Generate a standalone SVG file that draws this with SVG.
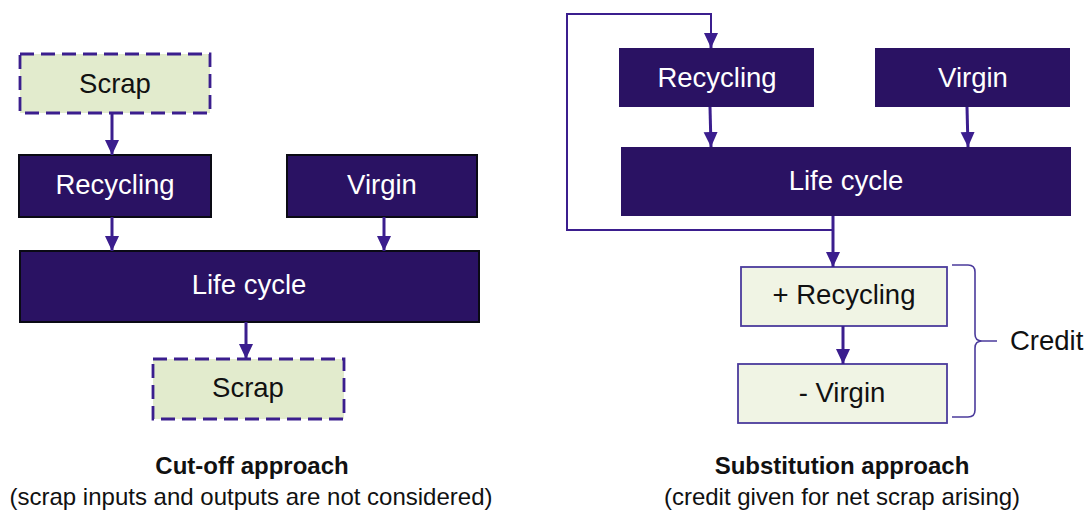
<svg xmlns="http://www.w3.org/2000/svg" width="1088" height="511" viewBox="0 0 1088 511">
  <style>
    .dark { fill: #2a1263; }
    .dark-b { fill: #2a1263; stroke: #0a0a14; stroke-width: 2; }
    .scrap { fill: #e2ebcd; stroke: #3b1e8e; stroke-width: 2.8; stroke-dasharray: 14 7; }
    .credit { fill: #f0f4e4; stroke: #4b3b9c; stroke-width: 1.8; }
    .lbl { font-family: "Liberation Sans", Arial, sans-serif; font-size: 27.5px; text-anchor: middle; }
    .lw { fill: #ffffff; }
    .lk { fill: #111111; }
    .cap { font-family: "Liberation Sans", Arial, sans-serif; font-size: 24px; text-anchor: middle; fill: #111111; }
    .capb { font-weight: bold; }
    .arrow { fill: none; stroke: #3b1e8e; stroke-width: 3; marker-end: url(#head); }
    .loop { fill: none; stroke: #3b1e8e; stroke-width: 2; }
    .brace { fill: none; stroke: #4b3b9c; stroke-width: 1.6; }
  </style>
  <defs>
    <marker id="head" markerUnits="userSpaceOnUse" markerWidth="16" markerHeight="16" viewBox="0 0 16 16" refX="15" refY="8" orient="auto">
      <path d="M0,1 L15,8 L0,15 Z" fill="#3b1e8e"/>
    </marker>
  </defs>

  <!-- Cut-off approach -->
  <g id="scrap-in">
    <rect class="scrap" x="20" y="54" width="190" height="59"/>
    <text class="lbl lk" x="115" y="93">Scrap</text>
  </g>
  <g id="recycling-left">
    <rect class="dark-b" x="19" y="155" width="192" height="62"/>
    <text class="lbl lw" x="115" y="194">Recycling</text>
  </g>
  <g id="virgin-left">
    <rect class="dark-b" x="287" y="155" width="190" height="62"/>
    <text class="lbl lw" x="382" y="194">Virgin</text>
  </g>
  <g id="lifecycle-left">
    <rect class="dark-b" x="20" y="251" width="459" height="71" stroke-width="3"/>
    <text class="lbl lw" x="249" y="294">Life cycle</text>
  </g>
  <g id="scrap-out">
    <rect class="scrap" x="153" y="359" width="191" height="60"/>
    <text class="lbl lk" x="248" y="397">Scrap</text>
  </g>

  <!-- Substitution approach -->
  <g id="recycling-right">
    <rect class="dark" x="619" y="48" width="195" height="59"/>
    <text class="lbl lw" x="717" y="87">Recycling</text>
  </g>
  <g id="virgin-right">
    <rect class="dark" x="875" y="48" width="195" height="59"/>
    <text class="lbl lw" x="973" y="87">Virgin</text>
  </g>
  <g id="lifecycle-right">
    <rect class="dark" x="621" y="147" width="450" height="69"/>
    <text class="lbl lw" x="846" y="190">Life cycle</text>
  </g>
  <g id="plus-recycling">
    <rect class="credit" x="741" y="267" width="206" height="59"/>
    <text class="lbl lk" x="844" y="304">+ Recycling</text>
  </g>
  <g id="minus-virgin">
    <rect class="credit" x="738" y="364" width="209" height="59"/>
    <text class="lbl lk" x="842" y="402">- Virgin</text>
  </g>
  <g id="credit">
    <path class="brace" d="M952,265 L968,265 Q975,265 975,272 L975,334 Q975,341 982,341 L997,341 M982,341 Q975,341 975,348 L975,410 Q975,417 968,417 L952,417"/>
    <text class="lbl lk" x="1010" y="350" style="text-anchor:start">Credit</text>
  </g>

  <g id="connectors">
    <line class="arrow" x1="112" y1="113" x2="112" y2="155"/>
    <line class="arrow" x1="112" y1="217" x2="112" y2="251"/>
    <line class="arrow" x1="384" y1="217" x2="384" y2="251"/>
    <line class="arrow" x1="246" y1="322" x2="246" y2="359"/>
    <line class="arrow" x1="710" y1="107" x2="711" y2="147"/>
    <line class="arrow" x1="967" y1="107" x2="968" y2="147"/>
    <polyline class="loop" points="833,216 833,230 567,230 567,14 711,14 711,36"/>
    <line class="arrow" x1="711" y1="34" x2="711" y2="48" stroke-width="2"/>
    <line class="arrow" x1="833" y1="216" x2="833" y2="267"/>
    <line class="arrow" x1="843" y1="326" x2="843" y2="364"/>
  </g>

  <g id="captions">
    <text class="cap capb" x="252" y="474">Cut-off approach</text>
    <text class="cap" x="251" y="505">(scrap inputs and outputs are not considered)</text>
    <text class="cap capb" x="842" y="474">Substitution approach</text>
    <text class="cap" x="842" y="505">(credit given for net scrap arising)</text>
  </g>
</svg>
